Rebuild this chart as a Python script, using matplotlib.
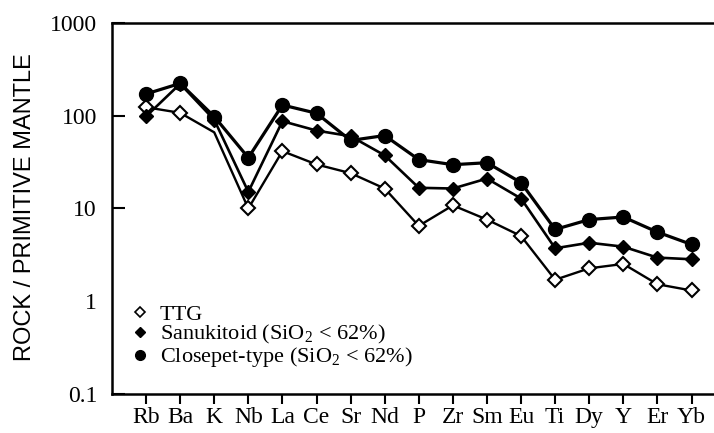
import matplotlib.pyplot as plt
from matplotlib.lines import Line2D

# 元素顺序 (primitive mantle normalised)
elements = ['Rb', 'Ba', 'K', 'Nb', 'La', 'Ce', 'Sr', 'Nd', 'P',
            'Zr', 'Sm', 'Eu', 'Ti', 'Dy', 'Y', 'Er', 'Yb']

ttg = [123, 107, 66, 10, 41.4, 29.8, 24, 16.4, 6.5,
       10.8, 7.6, 5.05, 1.71, 2.27, 2.53, 1.53, 1.31]
sanukitoid = [98, 220, 90, 15.1, 87, 69, 60, 37.3, 16.7,
              16.4, 21, 12.8, 3.73, 4.28, 3.88, 2.96, 2.84]
closepet = [171, 222, 97.6, 35.2, 130, 106, 54, 61, 33.6,
            29.6, 31.1, 19, 5.95, 7.6, 8.1, 5.57, 4.1]

y_ticks = [0.1, 1, 10, 100, 1000]
y_ticklabels = ['0.1', '1', '10', '100', '1000']

plt.rcParams['font.family'] = ['Liberation Serif', 'DejaVu Serif']
plt.rcParams['mathtext.fontset'] = 'custom'
plt.rcParams['mathtext.rm'] = 'Liberation Serif'

fig = plt.figure(figsize=(7.14, 4.33), dpi=100)
ax = fig.add_axes([0.1573, 0.0894, 0.8427, 0.8582])

x = list(range(len(elements)))

# TTG: K 点没有标记
ttg_marks = [i for i in x if i != 2]
ax.plot(x, ttg, color='black', lw=1.7, marker='D', ms=7,
        mfc='white', mec='black', mew=1.5, markevery=ttg_marks, zorder=2)
ax.plot(x, sanukitoid, color='black', lw=1.9, marker='D', ms=7,
        mfc='black', mec='black', zorder=3)
ax.plot(x, closepet, color='black', lw=2.3, marker='o', ms=10,
        mfc='black', mec='black', zorder=4)

ax.set_yscale('log')
ax.set_ylim(0.1, 1000)
ax.set_xlim(-0.99, 16.66)
ax.set_yticks(y_ticks)
ax.set_yticklabels(y_ticklabels)
ax.minorticks_off()
ax.set_xticks(x)
ax.set_xticklabels(elements)

ax.tick_params(axis='y', direction='in', length=9, width=1.5, pad=11, labelsize=17)
ax.tick_params(axis='x', direction='out', length=7, width=1.5, pad=2.5, labelsize=17)
# 1 处没有刻度线
for t in ax.yaxis.get_major_ticks():
    if t.get_loc() == 1:
        t.tick1line.set_visible(False)

ax.spines['right'].set_visible(False)
for s in ['left', 'top', 'bottom']:
    ax.spines[s].set_linewidth(1.8)

fig.text(25 / 714, 1 - 207 / 433, 'ROCK / PRIMITIVE MANTLE', rotation=90,
         ha='center', va='center', fontsize=17, family='Liberation Sans')

# 图例
handles = [
    Line2D([], [], ls='none', marker='D', ms=5, mfc='white', mec='black', mew=1.2),
    Line2D([], [], ls='none', marker='D', ms=5, mfc='black', mec='black'),
    Line2D([], [], ls='none', marker='o', ms=7, mfc='black', mec='black'),
]
labels = ['TTG', 'Sanukitoid (SiO$_2$ < 62%)', 'Closepet-type (SiO$_2$ < 62%)']
ax.legend(handles, labels, loc='upper left', frameon=False, fontsize=16,
          handlelength=0.6, handletextpad=0.6, labelspacing=-0.05, borderpad=0,
          borderaxespad=0,
          bbox_to_anchor=(133 / 714, 1 - 304 / 433), bbox_transform=fig.transFigure)

fig.savefig('out.png', dpi=100)
